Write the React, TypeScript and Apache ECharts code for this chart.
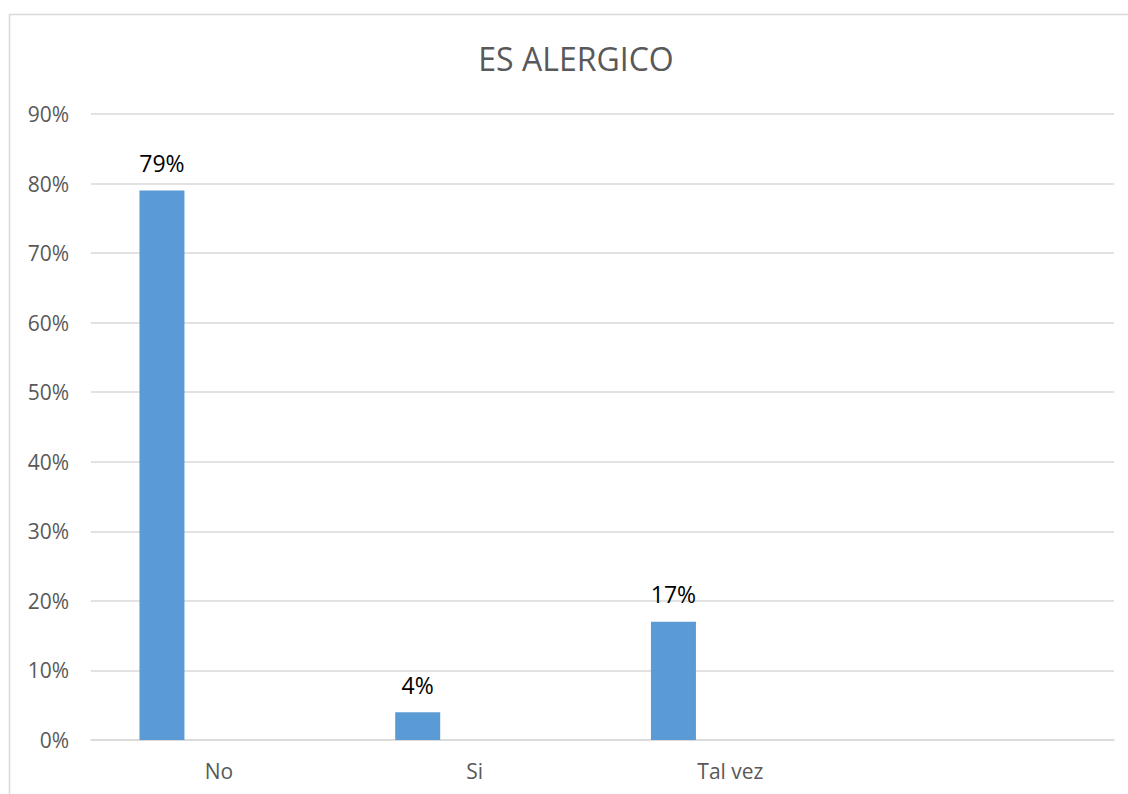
import React, { useEffect, useRef } from "react";
import * as echarts from "echarts";

const categories = ["No", "Si", "Tal vez", ""];
const seriesValues = [79, 4, 17, null];
const emptySeries = [null, null, null, null];
const yTicks = { min: 0, max: 90, interval: 10 };
const titleText = "ES ALERGICO";

export default function App() {
  const ref = useRef<HTMLDivElement>(null);
  useEffect(() => {
    document.body.style.margin = "0";
    const chart = echarts.init(ref.current!, null, { renderer: "svg" });
    const font = "'Open Sans', 'Noto Sans', sans-serif";
    chart.setOption({
      animation: false,
      backgroundColor: "#ffffff",
      textStyle: { fontFamily: font },
      title: {
        text: titleText,
        left: 576,
        top: 42,
        textAlign: "center",
        padding: 0,
        textStyle: { fontSize: 32, fontWeight: "normal", color: "#595959", fontFamily: font },
      },
      graphic: [
        {
          type: "rect",
          shape: { x: 9.5, y: 14.5, width: 1200, height: 900 },
          style: { fill: "none", stroke: "#d9d9d9", lineWidth: 1.5 },
          silent: true,
          z: -1,
        },
      ],
      grid: { left: 91, right: 14, top: 114, bottom: 54, containLabel: false },
      xAxis: {
        type: "category",
        data: categories,
        boundaryGap: true,
        axisLine: { show: true, lineStyle: { color: "#d9d9d9", width: 1.5 } },
        axisTick: { show: false },
        axisLabel: { color: "#595959", fontSize: 21, margin: 20, fontFamily: font },
        splitLine: { show: false },
      },
      yAxis: {
        type: "value",
        min: yTicks.min,
        max: yTicks.max,
        interval: yTicks.interval,
        axisLine: { show: false },
        axisTick: { show: false },
        axisLabel: { color: "#595959", fontSize: 21, margin: 22, formatter: "{value}%", fontFamily: font },
        splitLine: { show: true, lineStyle: { color: "#d9d9d9", width: 1.5 } },
      },
      series: [
        {
          type: "bar",
          data: seriesValues,
          barWidth: 45,
          barGap: "153%",
          itemStyle: { color: "#5b9bd5" },
          label: {
            show: true,
            position: "top",
            distance: 16,
            formatter: "{c}%",
            color: "#000000",
            fontSize: 23,
            fontFamily: font,
          },
        },
        {
          type: "bar",
          data: emptySeries,
          barWidth: 45,
          itemStyle: { color: "#ed7d31" },
        },
      ],
    });
    return () => chart.dispose();
  }, []);
  return <div ref={ref} style={{ position: "fixed", left: 0, top: 0, width: 1128, height: 794 }} />;
}
